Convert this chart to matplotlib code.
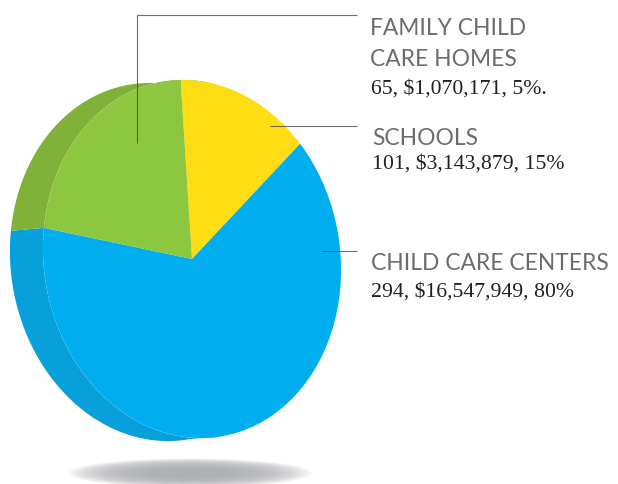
import numpy as np
import matplotlib
matplotlib.use("Agg")
import matplotlib.pyplot as plt
from matplotlib.patches import Ellipse
from matplotlib.transforms import Affine2D

W, H = 618, 484

# Data
slice_names = ["SCHOOLS-slice", "CHILD CARE CENTERS", "FAMILY-slice"]
slice_values = [65, 294, 101]
slice_colors = ["#FFDD15", "#00AEEF", "#8DC63F"]
side_colors = {"CHILD CARE CENTERS": "#07A0DA", "FAMILY-slice": "#80B139"}
heading_labels = [["FAMILY CHILD", "CARE HOMES"], ["SCHOOLS"], ["CHILD CARE CENTERS"]]
detail_labels = ["65, $1,070,171, 5%.", "101, $3,143,879, 15%", "294, $16,547,949, 80%"]

START = 92.5
CX, CY = 192, 259
A, B, D = 149, -4.9, 179
OFF_X, OFF_Y = -33, 3

fig = plt.figure(figsize=(W / 100, H / 100), dpi=100, facecolor="white")
ax = fig.add_axes([0, 0, 1, 1])

# soft shadow
n = 40
for i in range(n):
    f = 1 - i / n
    ax.add_patch(Ellipse((190, 473), 244 * f, 29 * f, fc="#B0B1B4", ec="none",
                         alpha=0.085, zorder=0))

fr = np.array(slice_values, float) / sum(slice_values)
bound_ccw = START - 360 * (fr[0] + fr[1]) + 360


def to_px(u, v):
    return CX + A * u + B * v, CY - (B * u + D * v)


def side(t0, t1, color):
    t = np.radians(np.linspace(t0, t1, 200))
    xf, yf = to_px(np.cos(t), np.sin(t))
    xs = np.r_[xf, xf[::-1] + OFF_X]
    ys = np.r_[yf, yf[::-1] + OFF_Y]
    ax.fill(xs, ys, color=color, lw=0, zorder=1)


side(bound_ccw, 280, side_colors["CHILD CARE CENTERS"])
side(bound_ccw, 80, side_colors["FAMILY-slice"])

wedges, _ = ax.pie(slice_values, colors=slice_colors, startangle=START, counterclock=False,
                   radius=1, wedgeprops=dict(lw=0))
unit_to_px = Affine2D.from_values(A, -B, B, -D, CX, CY)
for w in wedges:
    w.set_transform(unit_to_px + ax.transData)
    w.set_zorder(2)

ax.set_aspect("auto")
ax.set_xlim(0, W)
ax.set_ylim(H, 0)
ax.axis("off")

lc = dict(color="#4a4a4a", lw=0.8, alpha=0.8, solid_capstyle="butt",
          solid_joinstyle="miter", zorder=3)
ax.plot([137, 137, 357], [143, 15, 15], **lc)
ax.plot([270, 357], [125.5, 125.5], **lc)
ax.plot([321, 357], [251, 251], **lc)

sans = dict(family="Lato", color="#6b6c6e", fontsize=16.4, va="baseline", ha="left", zorder=4)
serif = dict(family="Liberation Serif", color="#231F20", fontsize=15.7, va="baseline", ha="left", zorder=4)
ax.text(370, 35, heading_labels[0][0], **sans)
ax.text(370, 66, heading_labels[0][1], **sans)
ax.text(371, 94, detail_labels[0], **serif)
ax.text(372, 145, heading_labels[1][0], **sans)
ax.text(372, 169, detail_labels[1], **serif)
ax.text(371, 270, heading_labels[2][0], **sans)
ax.text(371, 297, detail_labels[2], **serif)

fig.savefig("out.png", dpi=100)
